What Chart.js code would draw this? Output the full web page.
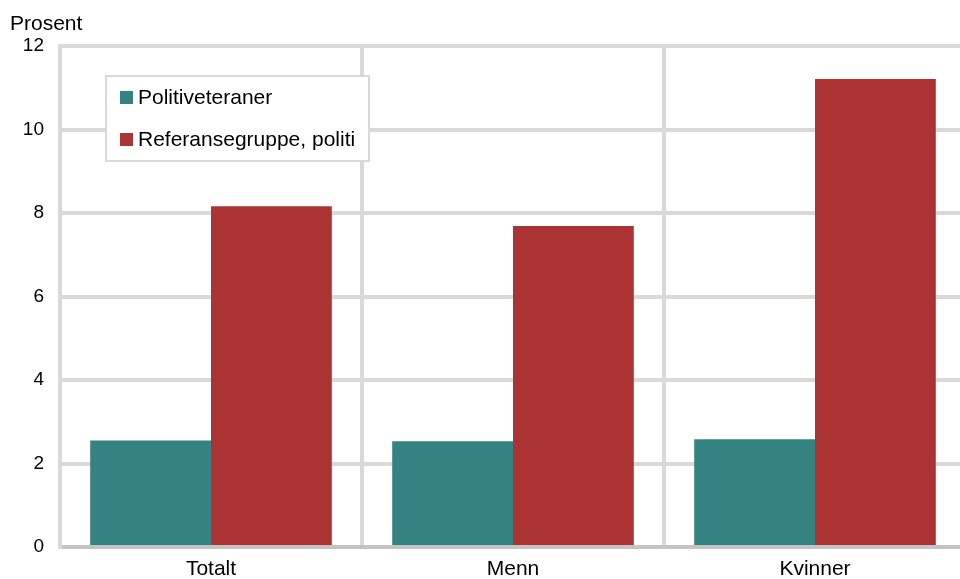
<!DOCTYPE html>
<html>
<head>
<meta charset="utf-8">
<script src="https://cdn.jsdelivr.net/npm/chart.js@4.4.1/dist/chart.umd.min.js"></script>
<style>
    html, body { margin: 0; padding: 0; background: #fff; overflow: hidden; }
    #wrap { width: 970px; height: 579px; }
</style>
</head>
<body>
<div id="wrap"><canvas id="chart" width="970" height="579"></canvas></div>
<script>
// chart data
var categories = ["Totalt", "Menn", "Kvinner"];
var seriesNames = ["Politiveteraner", "Referansegruppe, politi"];
var veteranValues = [2.55, 2.53, 2.58];
var referenceValues = [8.16, 7.69, 11.21];
var yTicks = [0, 2, 4, 6, 8, 10, 12];

var colors = ["#358282", "#ab3333"];
var fontFamily = "'Liberation Sans', Arial, sans-serif";

// draws the legend box inside the plot area
var legendBox = {
    id: "legendBox",
    afterDraw: function (chart) {
        var ctx = chart.ctx;
        var x = 106, y = 76, w = 263, h = 85;
        ctx.save();
        ctx.fillStyle = "#ffffff";
        ctx.fillRect(x, y, w, h);
        ctx.strokeStyle = "#d9d9d9";
        ctx.lineWidth = 2;
        ctx.strokeRect(x, y, w, h);
        ctx.font = "21px " + fontFamily;
        ctx.textBaseline = "middle";
        chart.data.datasets.forEach(function (ds, i) {
            var cy = y + 21 + i * 42;
            ctx.fillStyle = ds.backgroundColor;
            ctx.fillRect(x + 14, cy - 6, 13, 13);
            ctx.fillStyle = "#000";
            ctx.fillText(ds.label, x + 32, cy + 1);
        });
        // axis title
        ctx.textBaseline = "alphabetic";
        ctx.fillText("Prosent", 10, 30);
        ctx.restore();
    }
};

var ctx = document.getElementById("chart").getContext("2d");
var chart = new Chart(ctx, {
    type: "bar",
    data: {
        labels: categories,
        datasets: [
            {
                label: seriesNames[0],
                data: veteranValues,
                backgroundColor: colors[0],
                categoryPercentage: 0.8,
                barPercentage: 1.0
            },
            {
                label: seriesNames[1],
                data: referenceValues,
                backgroundColor: colors[1],
                categoryPercentage: 0.8,
                barPercentage: 1.0
            }
        ]
    },
    options: {
        responsive: false,
        animation: false,
        layout: { padding: { top: 46, right: 4, left: 0, bottom: 0 } },
        plugins: {
            legend: { display: false },
            tooltip: { enabled: false }
        },
        scales: {
            x: {
                grid: { color: "#d9d9d9", lineWidth: 4, drawTicks: false },
                border: { display: true, color: "#c4c4c4", width: 4 },
                ticks: { color: "#000", font: { family: fontFamily, size: 21 }, padding: 10 },
                afterFit: function (scale) { scale.height = 32; }
            },
            y: {
                min: 0,
                max: 12,
                afterBuildTicks: function (scale) {
                    scale.ticks = yTicks.map(function (v) { return { value: v }; });
                },
                grid: { color: "#d9d9d9", lineWidth: 4, drawTicks: false },
                border: { display: true, color: "#d9d9d9", width: 4 },
                ticks: { color: "#000", font: { family: fontFamily, size: 19 }, padding: 16 },
                afterFit: function (scale) { scale.width = 60; }
            }
        }
    },
    plugins: [legendBox]
});
</script>
</body>
</html>
